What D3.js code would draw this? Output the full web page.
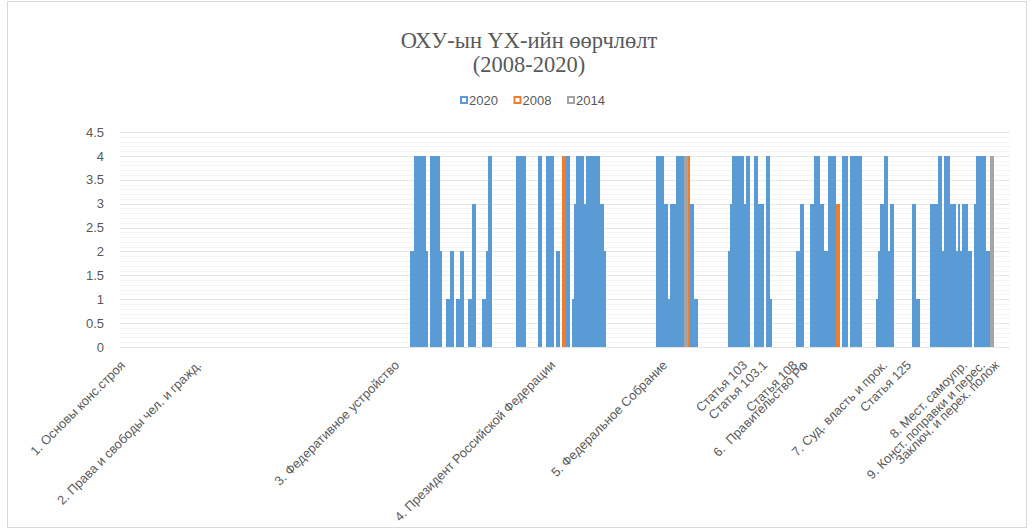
<!DOCTYPE html>
<html>
<head>
<meta charset="utf-8">
<script src="https://cdn.jsdelivr.net/npm/d3@7"></script>
<style>
  body { margin: 0; background: #fff; }
  svg { display: block; }
</style>
</head>
<body>
<svg id="chart"></svg>
<script>
// rows of the sheet, one value per row (2020 column)
var values2020 = [
  0,0,0,0,0,0,0,0,0,0,0,0,0,0,0,0,0,0,0,0,
  0,0,0,0,0,0,0,0,0,0,0,0,0,0,0,0,0,0,0,0,
  0,0,0,0,0,0,0,0,0,0,0,0,0,0,0,0,0,0,0,0,
  0,0,0,0,0,0,0,0,0,0,0,0,0,0,0,0,0,0,0,0,
  0,0,0,0,0,0,0,0,0,0,0,0,0,0,0,0,0,0,0,0,
  0,0,0,0,0,0,0,0,0,0,0,0,0,0,0,0,0,0,0,0,
  0,0,0,0,0,0,0,0,0,0,0,0,0,0,0,0,0,0,0,0,
  0,0,0,0,0,2,2,4,4,4,4,4,4,2,0,4,4,4,4,4,
  2,0,0,1,1,2,2,0,1,1,2,2,0,0,1,1,3,3,0,0,
  0,1,1,2,4,4,0,0,0,0,0,0,0,0,0,0,0,0,4,4,
  4,4,4,0,0,0,0,0,0,4,4,0,0,4,4,4,4,0,2,2,
  0,0,0,4,4,0,1,3,4,4,4,4,3,4,4,4,4,4,4,4,
  3,3,2,0,0,0,0,0,0,0,0,0,0,0,0,0,0,0,0,0,
  0,0,0,0,0,0,0,0,4,4,4,4,3,3,1,3,3,3,4,4,
  4,4,0,0,0,3,3,1,1,0,0,0,0,0,0,0,0,0,0,0,
  0,0,0,0,2,3,4,4,4,4,4,4,3,4,4,0,0,4,4,3,
  3,3,0,4,4,1,0,0,0,0,0,0,0,0,0,0,0,0,2,2,
  3,3,0,0,0,3,3,4,4,4,3,3,2,2,4,4,4,4,0,0,
  0,4,4,4,0,4,4,4,4,4,4,0,0,0,0,0,0,0,1,2,
  3,3,4,4,2,3,3,0,0,0,0,0,0,0,0,0,3,3,1,1,
  0,0,0,0,0,3,3,3,3,4,4,2,4,4,4,3,3,3,2,3,
  2,3,3,3,2,2,0,3,4,4,4,4,4,2,2,0,0,0,0,0,
  0,0,0,0,0
]

// 2008 and 2014 only have a few filled rows
var rows2008 = [221, 222, 284, 358, 359]
var values2008 = [4, 4, 4, 3, 3]
var rows2014 = [282, 283, 435, 436]
var values2014 = [4, 4, 4, 4]

// category names, only some rows carry a name
var labelNames = ["1. Основы конс.строя", "2. Права и свободы чел. и гражд.", "3. Федеративное устройство",
  "4. Президент Российской Федерации", "5. Федеральное Собрание", "Статья 103", "Статья 103.1",
  "Статья 108", "6.  Правительство РФ", "7. Суд. власть и прок.", "Статья 125", "8. Мест. самоупр.",
  "9. Конст. поправки и перес.", "Заключ. и перех. полож"]
var labelRows = [0, 38, 137, 215, 271, 311, 321, 336, 342, 381, 393, 421, 430, 437]

var yTicks = [0, 0.5, 1, 1.5, 2, 2.5, 3, 3.5, 4, 4.5]
var seriesNames = ["2020", "2008", "2014"]
var seriesColors = ["#5B9BD5", "#ED7D31", "#A5A5A5"]

var dimensions = {
    width: 1034,
    height: 530,
    margin: { top: 132, bottom: 183, left: 120, right: 24 }
}

var svg = d3.select("#chart")
    .attr("width", dimensions.width)
    .attr("height", dimensions.height)

// outer chart frame
svg.append("rect")
    .attr("x", 7.5).attr("y", 1.5)
    .attr("width", 1019).attr("height", 526)
    .attr("fill", "none")
    .attr("stroke", "#d9d9d9")

var xScale = d3.scaleBand()
    .domain(d3.range(values2020.length))
    .range([dimensions.margin.left, dimensions.width - dimensions.margin.right])
    .padding(0)

var yScale = d3.scaleLinear()
    .domain([0, 4.5])
    .range([dimensions.height - dimensions.margin.bottom, dimensions.margin.top])

// faint minor + major gridlines
var minor = d3.range(0, 45).map(d => d / 10)
svg.append("g")
    .selectAll("line")
    .data(minor)
    .enter()
    .append("line")
    .attr("x1", dimensions.margin.left)
    .attr("x2", dimensions.width - dimensions.margin.right)
    .attr("y1", d => Math.round(yScale(d)) + 0.5)
    .attr("y2", d => Math.round(yScale(d)) + 0.5)
    .attr("stroke", "#f4f4f4")

svg.append("g")
    .selectAll("line")
    .data(yTicks)
    .enter()
    .append("line")
    .attr("x1", dimensions.margin.left)
    .attr("x2", dimensions.width - dimensions.margin.right)
    .attr("y1", d => Math.round(yScale(d)) + 0.5)
    .attr("y2", d => Math.round(yScale(d)) + 0.5)
    .attr("stroke", "#e6e6e6")

var yAxis = svg.append("g")
    .attr("transform", "translate(" + (dimensions.margin.left - 13) + ",0)")
    .call(d3.axisLeft(yScale).tickValues(yTicks).tickSize(0).tickFormat(d => String(d)))
yAxis.select(".domain").remove()
yAxis.selectAll("text")
    .attr("font-family", "'Liberation Sans', Arial, sans-serif")
    .attr("font-size", 13)
    .attr("fill", "#595959")

// bars
svg.append("g")
    .selectAll("rect")
    .data(values2020.map((v, i) => [i, v]).filter(d => d[1] > 0))
    .enter()
    .append("rect")
    .attr("x", d => xScale(d[0]))
    .attr("y", d => yScale(d[1]))
    .attr("width", xScale.bandwidth())
    .attr("height", d => yScale(0) - yScale(d[1]))
    .attr("fill", seriesColors[0])
    .attr("shape-rendering", "crispEdges")

svg.append("g")
    .selectAll("rect")
    .data(rows2008.map((r, i) => [r, values2008[i]]))
    .enter()
    .append("rect")
    .attr("x", d => xScale(d[0]))
    .attr("y", d => yScale(d[1]))
    .attr("width", xScale.bandwidth())
    .attr("height", d => yScale(0) - yScale(d[1]))
    .attr("fill", seriesColors[1])
    .attr("shape-rendering", "crispEdges")

svg.append("g")
    .selectAll("rect")
    .data(rows2014.map((r, i) => [r, values2014[i]]))
    .enter()
    .append("rect")
    .attr("x", d => xScale(d[0]))
    .attr("y", d => yScale(d[1]))
    .attr("width", xScale.bandwidth())
    .attr("height", d => yScale(0) - yScale(d[1]))
    .attr("fill", seriesColors[2])
    .attr("shape-rendering", "crispEdges")

// category labels, rotated like excel does
svg.append("g")
    .selectAll("text")
    .data(labelNames)
    .enter()
    .append("text")
    .attr("transform", (d, i) => "translate(" + (xScale(labelRows[i]) + xScale.bandwidth() / 2 + 5) + "," + 366 + ") rotate(-45)")
    .attr("text-anchor", "end")
    .attr("font-family", "'Liberation Sans', Arial, sans-serif")
    .attr("font-size", 12.8)
    .attr("fill", "#595959")
    .style("white-space", "pre")
    .text(d => d)

// title
var title = svg.append("text")
    .attr("x", 529)
    .attr("text-anchor", "middle")
    .attr("font-family", "'Liberation Serif', 'Times New Roman', serif")
    .attr("font-size", 22.5)
    .attr("fill", "#595959")
title.append("tspan").attr("x", 529).attr("y", 48).text("ОХУ-ын ҮХ-ийн өөрчлөлт")
title.append("tspan").attr("x", 529).attr("y", 72).text("(2008-2020)")

// legend
var legend = svg.append("g")
    .selectAll("g")
    .data(seriesNames)
    .enter()
    .append("g")
    .attr("transform", (d, i) => "translate(" + (460 + i * 53.5) + ",96)")

legend.append("rect")
    .attr("x", 1).attr("y", 1)
    .attr("width", 6).attr("height", 6)
    .attr("fill", "#fff")
    .attr("stroke", (d, i) => seriesColors[i])
    .attr("stroke-width", 2)

legend.append("text")
    .attr("x", 9)
    .attr("y", 8.5)
    .attr("font-family", "'Liberation Sans', Arial, sans-serif")
    .attr("font-size", 13)
    .attr("fill", "#595959")
    .text(d => d)
</script>
</body>
</html>
